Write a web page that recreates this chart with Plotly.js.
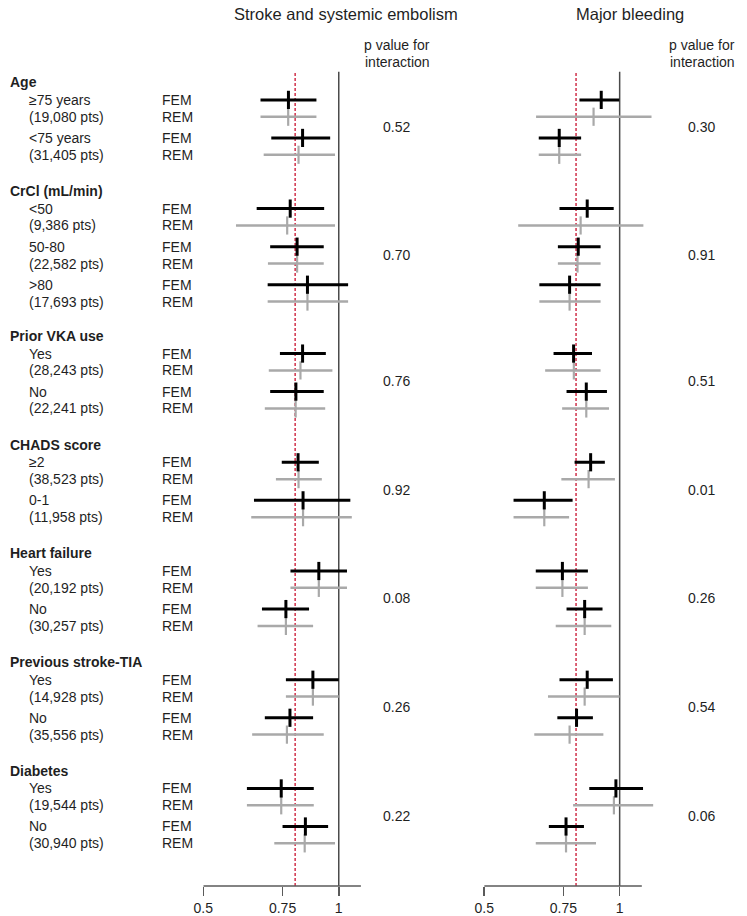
<!DOCTYPE html>
<html>
<head>
<meta charset="utf-8">
<script src="https://cdn.plot.ly/plotly-3.0.1.min.js"></script>
<style>html,body{margin:0;padding:0;background:#fff;}#chart{width:747px;height:916px;}</style>
</head>
<body>
<div id="chart"></div>
<script>
// ---------------- DATA ----------------
const groupNames = ['Age', 'CrCl (mL/min)', 'Prior VKA use', 'CHADS score', 'Heart failure', 'Previous stroke-TIA', 'Diabetes'];
const groupSizes = [2, 3, 2, 2, 2, 2, 2];
const subLabels = ['\u226575 years', '<75 years', '<50', '50-80', '>80', 'Yes', 'No', '\u22652', '0-1', 'Yes', 'No', 'Yes', 'No', 'Yes', 'No'];
const subPts = ['(19,080 pts)', '(31,405 pts)', '(9,386 pts)', '(22,582 pts)', '(17,693 pts)', '(28,243 pts)', '(22,241 pts)', '(38,523 pts)', '(11,958 pts)', '(20,192 pts)', '(30,257 pts)', '(14,928 pts)', '(35,556 pts)', '(19,544 pts)', '(30,940 pts)'];
const modelLabels = ['FEM', 'REM'];

// Stroke and systemic embolism
const sseFemEst = [0.773, 0.831, 0.780, 0.808, 0.852, 0.831, 0.803, 0.812, 0.833, 0.903, 0.763, 0.876, 0.779, 0.745, 0.843];
const sseFemLo  = [0.670, 0.708, 0.657, 0.704, 0.695, 0.740, 0.704, 0.747, 0.648, 0.781, 0.675, 0.763, 0.685, 0.625, 0.750];
const sseFemHi  = [0.892, 0.957, 0.928, 0.926, 1.049, 0.936, 0.926, 0.903, 1.061, 1.043, 0.859, 1.000, 0.877, 0.880, 0.947];
const sseRemEst = [0.772, 0.814, 0.768, 0.808, 0.852, 0.822, 0.802, 0.814, 0.833, 0.903, 0.763, 0.876, 0.767, 0.745, 0.840];
const sseRemLo  = [0.670, 0.681, 0.591, 0.696, 0.695, 0.699, 0.685, 0.725, 0.639, 0.781, 0.660, 0.763, 0.642, 0.625, 0.719];
const sseRemHi  = [0.892, 0.981, 0.981, 0.926, 1.049, 0.968, 0.933, 0.917, 1.069, 1.043, 0.877, 1.000, 0.926, 0.880, 0.981];
const sseP = ['0.52', '0.70', '0.76', '0.92', '0.08', '0.26', '0.22'];

// Major bleeding
const mbFemEst = [0.910, 0.734, 0.847, 0.809, 0.774, 0.790, 0.843, 0.862, 0.680, 0.746, 0.836, 0.847, 0.802, 0.981, 0.760];
const mbFemLo  = [0.814, 0.661, 0.735, 0.729, 0.663, 0.713, 0.762, 0.794, 0.581, 0.651, 0.762, 0.735, 0.727, 0.856, 0.696];
const mbFemHi  = [0.998, 0.821, 0.970, 0.907, 0.907, 0.868, 0.937, 0.927, 0.786, 0.850, 0.916, 0.966, 0.872, 1.127, 0.833];
const mbRemEst = [0.875, 0.734, 0.819, 0.806, 0.774, 0.791, 0.843, 0.853, 0.680, 0.746, 0.836, 0.836, 0.774, 0.971, 0.760];
const mbRemLo  = [0.652, 0.661, 0.595, 0.729, 0.663, 0.683, 0.745, 0.742, 0.581, 0.651, 0.721, 0.693, 0.646, 0.788, 0.651];
const mbRemHi  = [1.177, 0.821, 1.129, 0.907, 0.907, 0.907, 0.947, 0.976, 0.772, 0.850, 0.958, 1.000, 0.920, 1.187, 0.886];
const mbP = ['0.30', '0.91', '0.51', '0.01', '0.26', '0.54', '0.06'];

const refLine = 0.80;
const tickVals = [0.5, 0.75, 1];
const tickText = ['0.5', '0.75', '1'];
const panelTitles = ['Stroke and systemic embolism', 'Major bleeding'];
const pHeader = ['p value for', 'interaction'];

// ---------------- LAYOUT HELPERS ----------------
const W = 747, H = 916;
const FONT = 'Liberation Sans, Arial, sans-serif';
const TXT = '#1f1f1f';
const px2x = p => p / W;
const px2y = p => 1 - p / H;

// row positions (y units = one text row)
const headerY = [], femY = [], remY = [], pY = [];
let cum = 0;
groupSizes.forEach((n, g) => {
  headerY.push(cum);
  const first = cum + 0.97;
  for (let k = 0; k < n; k++) {
    const f = cum + 0.97 + 2.1 * k;
    femY.push(f);
    remY.push(f + 0.93);
  }
  pY.push((first + femY[femY.length - 1] + 0.93) / 2);
  cum += 2 * n + 2;
});

const plotTopPx = 71.7, plotBotPx = 886;
const row0Px = 82.3, rowPx = 18.12;
const yTop = (plotTopPx - row0Px) / rowPx;
const yBot = (plotBotPx - row0Px) / rowPx;
const domY = [px2y(plotBotPx), px2y(plotTopPx)];

const pxPerDec = 450;
const xMax = 1.22;
function domainFor(px05) {
  return [px2x(px05), px2x(px05 + pxPerDec * (Math.log10(xMax) - Math.log10(0.5)))];
}
const domL = domainFor(203.3);
const domR = domainFor(484.2);

// ---------------- TRACES ----------------
function ciTrace(lo, hi, ys, color, width, xa) {
  const x = [], y = [];
  lo.forEach((v, i) => { x.push(v, hi[i], null); y.push(ys[i], ys[i], null); });
  return { type: 'scatter', mode: 'lines', x, y, xaxis: xa, yaxis: 'y',
    line: { color, width }, hoverinfo: 'skip', showlegend: false };
}
function estTrace(est, ys, color, width, size, xa) {
  return { type: 'scatter', mode: 'markers', x: est, y: ys, xaxis: xa, yaxis: 'y',
    marker: { symbol: 'line-ns', size, color, line: { color, width } },
    hoverinfo: 'skip', showlegend: false, cliponaxis: false };
}
const BLACK = '#000000', GRAY = '#a9a9a9';
const traces = [
  ciTrace(sseRemLo, sseRemHi, remY, GRAY, 2.5, 'x'),
  estTrace(sseRemEst, remY, GRAY, 2.2, 13, 'x'),
  ciTrace(sseFemLo, sseFemHi, femY, BLACK, 3, 'x'),
  estTrace(sseFemEst, femY, BLACK, 3, 13, 'x'),
  ciTrace(mbRemLo, mbRemHi, remY, GRAY, 2.5, 'x2'),
  estTrace(mbRemEst, remY, GRAY, 2.2, 13, 'x2'),
  ciTrace(mbFemLo, mbFemHi, femY, BLACK, 3, 'x2'),
  estTrace(mbFemEst, femY, BLACK, 3, 13, 'x2'),
];

// ---------------- SHAPES ----------------
const shapes = [];
['x', 'x2'].forEach(xa => {
  shapes.push({ type: 'line', xref: xa, yref: 'paper', x0: refLine, x1: refLine, y0: domY[0], y1: domY[1],
    line: { color: '#d0304a', width: 1.5, dash: '3px,2px' }, layer: 'below' });
  shapes.push({ type: 'line', xref: xa, yref: 'paper', x0: 1, x1: 1, y0: domY[0], y1: domY[1],
    line: { color: '#4a4a4a', width: 1.5 }, layer: 'below' });
  shapes.push({ type: 'line', xref: xa, yref: 'paper', x0: 0.5, x1: 1.12, y0: domY[0], y1: domY[0],
    line: { color: '#5a5a5a', width: 1.5 }, layer: 'above' });
});

// ---------------- ANNOTATIONS ----------------
const ann = [];
function txt(text, xpx, y, yref, opts = {}) {
  ann.push(Object.assign({ text, x: px2x(xpx), xref: 'paper', y, yref, showarrow: false,
    xanchor: 'left', yanchor: 'middle', font: { family: FONT, size: 14, color: TXT } }, opts));
}
groupNames.forEach((g, i) => txt('<b>' + g + '</b>', 7.5, headerY[i], 'y'));
subLabels.forEach((s, i) => {
  txt(s, 27, femY[i], 'y');
  txt(subPts[i], 27, remY[i], 'y');
  txt(modelLabels[0], 159.5, femY[i], 'y');
  txt(modelLabels[1], 159.5, remY[i], 'y');
});
sseP.forEach((p, i) => txt(p, 397, pY[i], 'y', { xanchor: 'center' }));
mbP.forEach((p, i) => txt(p, 701, pY[i], 'y', { xanchor: 'center' }));
[397.5, 702].forEach(cx => {
  txt(pHeader[0], cx, px2y(45), 'paper', { xanchor: 'center' });
  txt(pHeader[1], cx, px2y(61.5), 'paper', { xanchor: 'center' });
});
txt(panelTitles[0], 346, px2y(14), 'paper', { xanchor: 'center', font: { family: FONT, size: 16.5, color: TXT } });
txt(panelTitles[1], 630, px2y(14), 'paper', { xanchor: 'center', font: { family: FONT, size: 16.5, color: TXT } });

// ---------------- AXES ----------------
function xAxis(dom) {
  return { type: 'log', domain: dom, range: [Math.log10(0.5), Math.log10(xMax)], anchor: 'y',
    showgrid: false, zeroline: false, showline: false,
    tickmode: 'array', tickvals: tickVals, ticktext: tickText,
    ticks: 'outside', ticklen: 9, tickwidth: 1.5, tickcolor: '#5a5a5a',
    tickfont: { family: FONT, size: 14, color: TXT }, fixedrange: true };
}
const layout = {
  width: W, height: H, margin: { l: 0, r: 0, t: 0, b: 0 },
  paper_bgcolor: '#ffffff', plot_bgcolor: 'rgba(0,0,0,0)',
  showlegend: false,
  xaxis: xAxis(domL),
  xaxis2: xAxis(domR),
  yaxis: { domain: domY, range: [yBot, yTop], visible: false, showgrid: false, zeroline: false, fixedrange: true },
  shapes, annotations: ann,
};

Plotly.newPlot('chart', traces, layout, { staticPlot: true, displayModeBar: false });
</script>
</body>
</html>
